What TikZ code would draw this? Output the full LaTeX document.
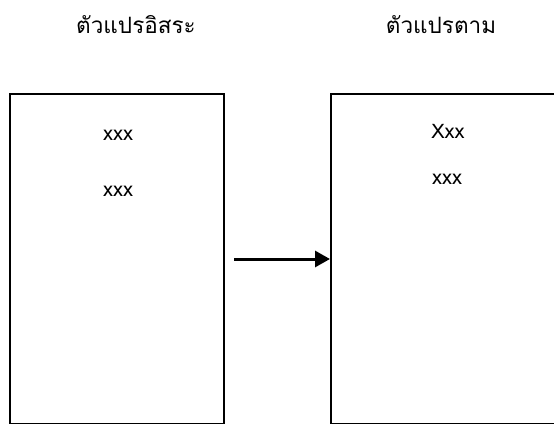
\documentclass[tikz,border=0pt]{standalone}
\usepackage{fontspec}
\usetikzlibrary{positioning,arrows.meta}
\newfontfamily\thaifont[Script=Thai]{Loma}

\begin{document}
\begin{tikzpicture}[x=1pt,y=-1pt,
	varbox/.style={
		draw,
		line width=2pt,
		inner sep=0pt
	},
	title/.style={
		font=\thaifont\fontsize{22.5}{26}\selectfont,
		anchor=base
	},
	item/.style={
		font=\thaifont\fontsize{20}{24}\selectfont,
		anchor=base
	}
	]
	\useasboundingbox (0,0) rectangle (554,423);
	\clip (0,0) rectangle (554,423);
	
	\node[varbox,minimum width=214pt,minimum height=330pt] (indep) at (117,259) {};
	\node[varbox,minimum width=309pt,minimum height=330pt] (dep) at (485.5,259) {};
	
	\node[title] (tindep) at (136,33) {ตัวแปรอิสระ};
	\node[title] (tdep) at (441,33) {ตัวแปรตาม};
	
	\node[item] (i1) at (118,140) {xxx};
	\node[item] (i2) at (118,196) {xxx};
	\node[item] (d1) at (448,138) {Xxx};
	\node[item] (d2) at (447,184) {xxx};
	
	\draw[line width=3pt,-{Triangle[length=15pt,width=16pt]}] ([xshift=9pt]indep.east) -- (dep.west);
\end{tikzpicture}
\end{document}
